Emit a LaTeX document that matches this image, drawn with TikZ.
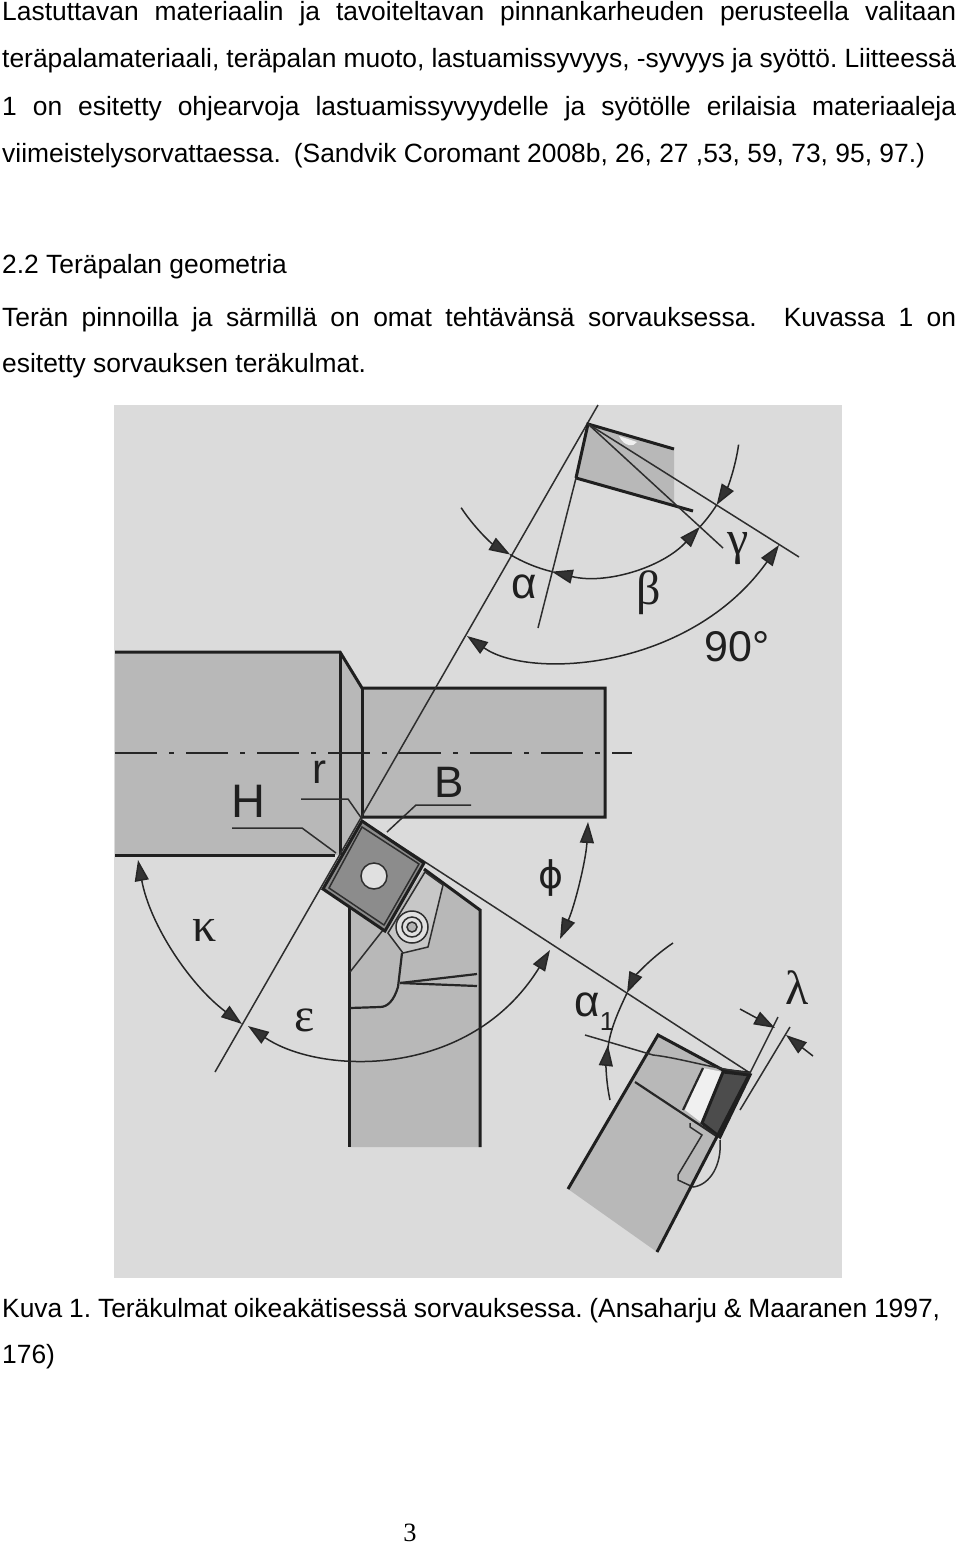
\documentclass[tikz,border=0pt]{standalone}
\usepackage{fontspec}
\setmainfont{Liberation Sans}
\newfontfamily\seriffont{Liberation Serif}
\newfontfamily\phifont{DejaVu Sans}
\usetikzlibrary{positioning,arrows.meta}
\tikzset{
	textline/.style={inner sep=0pt,anchor=north west,text height=20pt,text depth=6pt,font=\fontsize{26.4}{30}\selectfont\frenchspacing},
	photo/.style={fill=black!14,draw=none},
	toolfill/.style={fill=black!28},
	insertfill/.style={fill=black!45},
	thickline/.style={line width=3pt,draw=black!88},
	midline/.style={line width=2.2pt,draw=black!85},
	thinline/.style={line width=1.5pt,draw=black!82},
	dimtip/.tip={Triangle[length=21pt,width=14pt,fill=black!80]},
	dimline/.style={line width=1.5pt,draw=black!85},
	tag/.style={inner sep=0pt,text=black!88,font=\fontsize{44}{44}\selectfont},
	greek/.style={inner sep=0pt,text=black!88,font=\seriffont\fontsize{48}{48}\selectfont},
}
\begin{document}
\begin{tikzpicture}[x=1pt,y=-1pt]
	\useasboundingbox (0,0) rectangle (960,1545);

	\node[textline] (l1) at (2,0) {\makebox[954pt][s]{Lastuttavan materiaalin ja tavoiteltavan pinnankarheuden perusteella valitaan}};
	\node[textline,below=21pt of l1.south west,anchor=north west] (l2) {\makebox[954pt][s]{teräpalamateriaali, teräpalan muoto, lastuamissyvyys, -syvyys ja syöttö. Liitteessä}};
	\node[textline,below=21pt of l2.south west,anchor=north west] (l3) {\makebox[954pt][s]{1 on esitetty ohjearvoja lastuamissyvyydelle ja syötölle erilaisia materiaaleja}};
	\node[textline,below=21pt of l3.south west,anchor=north west] (l4) {viimeistelysorvattaessa.\hspace{13pt}(Sandvik Coromant 2008b, 26, 27 ,53, 59, 73, 95, 97.)};
	\node[textline] (h1) at (2,253) {2.2 Teräpalan geometria};
	\node[textline] (l5) at (2,306) {\makebox[954pt][s]{Terän pinnoilla ja särmillä on omat tehtävänsä sorvauksessa.~~Kuvassa 1 on}};
	\node[textline,below=20pt of l5.south west,anchor=north west] (l6) {esitetty sorvauksen teräkulmat.};
	\node[textline] (c1) at (2,1297) {\makebox[938pt][s]{Kuva 1. Teräkulmat oikeakätisessä sorvauksessa. (Ansaharju \& Maaranen 1997,}};
	\node[textline,below=20pt of c1.south west,anchor=north west] (c2) {176)};
	\node[inner sep=0pt,font=\seriffont\fontsize{26.4}{30}\selectfont] (pagenum) at (410,1533) {3};

	\fill[photo] (114,405) rectangle (842,1278);

	% holder seen from above
	\fill[toolfill] (115,652) -- (340,652) -- (362,688) -- (605,688) -- (605,817) -- (362,817) -- (340,855) -- (115,855) -- cycle;
	\fill[toolfill] (349,905) -- (385,931) -- (424,869) -- (480,910) -- (480,1147) -- (349,1147) -- cycle;
	\draw[thickline] (115,652) -- (340,652) -- (362,688) -- (605,688) -- (605,817) -- (362,817);
	\draw[thickline] (115,855) -- (335,855);
	\draw[thickline] (340,652) -- (340,855);
	\draw[thickline] (362,688) -- (362,817);
	\draw[thickline] (424,869) -- (480,910) -- (480,1147);
	\draw[thickline] (349,905) -- (349,1147);
	\draw[midline,dash pattern=on 42pt off 12pt on 5pt off 12pt] (115,753) -- (632,753);

	\coordinate (tipH) at (362,821);
	\coordinate (tipA) at (588,424);
	\coordinate (tipL) at (750,1073);

	\draw[thinline] (598,405) -- (215,1072);
	\draw[thinline] (tipH) -- (tipL);

	% clamp and seat
	\draw[thinline,fill=black!22] (425,872) -- (443,885) -- (428,947) -- (403,953) -- (388,933) -- cycle;
	\draw[thinline,fill=black!12] (412,927) circle[radius=16];
	\draw[thinline] (412,927) circle[radius=10];
	\draw[thinline,fill=black!30] (412,927) circle[radius=5];
	\draw[thinline] (383,930) -- (350,972);
	\draw[midline] (402,953) -- (398,987) .. controls (394,1000) and (388,1007) .. (380,1007) -- (350,1008);
	\draw[midline] (400,983) -- (477,974);
	\draw[midline] (400,983) -- (477,986);

	% insert
	\draw[thickline,insertfill] (tipH) -- (424,863) -- (385,931) -- (323,889) -- cycle;
	\draw[thinline] (362,827) -- (419,864) -- (384,925) -- (329,888) -- cycle;
	\draw[thinline,fill=black!12] (374,876) circle[radius=13];

	% leaders
	\draw[thinline] (232,828) -- (302,828) -- (336,853);
	\draw[thinline] (301,799) -- (348,799) -- (362,819);
	\draw[thinline] (471,805) -- (416,805) -- (387,832);

	% upper detail
	\fill[toolfill] (tipA) -- (576,478) -- (674,506) -- (674,449) -- cycle;
	\fill[black!6] (619,436) -- (637,442) .. controls (634,447) and (624,447) .. (619,436) -- cycle;
	\draw[thickline] (576,478) -- (tipA) -- (674,449);
	\draw[thickline] (576,478) -- (693,511);
	\draw[thinline] (576,478) -- (538,628);
	\draw[thinline] (tipA) -- (723,548);
	\draw[thinline] (tipA) -- (799,557);

	\draw[dimline,-{dimtip}] ([shift={(tipA)}]146.6:152) arc[start angle=146.6,end angle=120.8,radius=152];
	\draw[dimline] ([shift={(tipA)}]120.8:152) arc[start angle=120.8,end angle=103.8,radius=152];
	\draw[dimline,{dimtip}-{dimtip}] ([shift={(tipA)}]103.8:152) arc[start angle=103.8,end angle=42.6,radius=152];
	\draw[dimline] ([shift={(tipA)}]42.6:152) arc[start angle=42.6,end angle=32.2,radius=152];
	\draw[dimline,-{dimtip}] ([shift={(tipA)}]7.8:152) arc[start angle=7.8,end angle=32.2,radius=152];
	\draw[dimline,{dimtip}-{dimtip}] (467,636) .. controls (530,680) and (690,670) .. (779,545);

	% lower detail
	\fill[toolfill] (658,1035) -- (723,1070) -- (750,1073) -- (657,1252) -- (568,1189) -- cycle;
	\fill[black!6] (703,1068) -- (723,1072) -- (702,1123) -- (685,1110) -- cycle;
	\draw[thickline,fill=black!70] (723,1072) -- (750,1075) -- (720,1137) -- (702,1123) -- cycle;
	\draw[midline] (703,1068) -- (683,1110);
	\draw[midline] (635,1082) -- (718,1137);
	\draw[thinline] (690,1123) -- (690,1127) -- (702,1135) -- (678,1175) -- (678,1180) -- (693,1187);
	\draw[thinline] (720,1140) .. controls (722,1165) and (710,1185) .. (693,1187);
	\draw[thickline] (tipL) -- (723,1070) -- (658,1035) -- (568,1189);
	\draw[thickline] (tipL) -- (657,1252);
	\draw[thinline] (585,1035) -- (653,1055) .. controls (680,1058) and (710,1068) .. (tipL);
	\draw[thinline] (778,1017) -- (tipL);
	\draw[thinline] (790,1027) -- (740,1110);
	\draw[dimline,-{dimtip}] (740,1009) -- (775,1028);
	\draw[dimline,-{dimtip}] (813,1056) -- (786,1035);
	\draw[dimline,-{dimtip}] (673,943) .. controls (648,960) and (634,978) .. (627,993);
	\draw[dimline] (627,993) .. controls (618,1012) and (610,1030) .. (608,1048);
	\draw[dimline,-{dimtip}] (610,1100) .. controls (606,1082) and (606,1064) .. (608,1045);

	% big arcs
	\draw[dimline,{dimtip}-{dimtip}] (588,822) .. controls (586,860) and (575,905) .. (560,939);
	\draw[dimline,{dimtip}-{dimtip}] (138,860) .. controls (150,925) and (190,985) .. (242,1024);
	\draw[dimline,{dimtip}-{dimtip}] (248,1026) .. controls (320,1075) and (470,1080) .. (550,950);

	\node[tag,font=\fontsize{47}{47}\selectfont] (lblH) at (248,801) {H};
	\node[tag,font=\fontsize{42}{42}\selectfont] (lblr) at (319,772) {r};
	\node[tag] (lblB) at (449,782) {B};
	\node[tag] (lblalpha) at (524,587) {α};
	\node[greek] (lblbeta) at (649,593) {β};
	\node[greek] (lblgamma) at (738,549) {γ};
	\node[tag,font=\fontsize{43}{43}\selectfont] (lblninety) at (737,647) {90°};
	\node[tag,font=\phifont\fontsize{38}{38}\selectfont] (lblphi) at (551,878) {ϕ};
	\node[greek] (lblkappa) at (205,930) {κ};
	\node[greek] (lblepsilon) at (305,1020) {ε};
	\node[tag] (lblalphaone) at (587,1005) {α};
	\node[tag,font=\fontsize{26}{26}\selectfont] (lblone) at (607,1022) {1};
	\node[greek] (lbllambda) at (797,988) {λ};
\end{tikzpicture}
\end{document}
